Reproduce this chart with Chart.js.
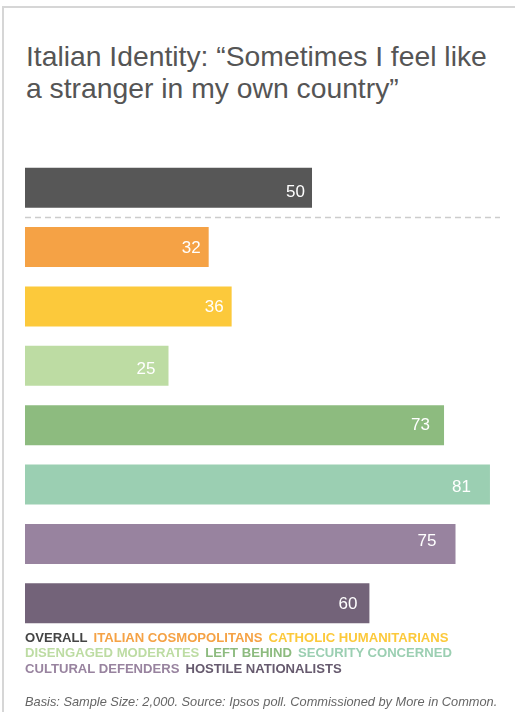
<!DOCTYPE html>
<html>
<head>
<meta charset="utf-8">
<script src="https://cdn.jsdelivr.net/npm/chart.js@4.4.0/dist/chart.umd.min.js"></script>
<style>
  body { margin: 0; background: #fff; font-family: "Liberation Sans", Arial, sans-serif; }
  #page { position: relative; width: 515px; height: 712px; overflow: hidden; }
  #frame { position: absolute; left: 2px; top: 6px; width: 600px; height: 800px;
           border-top: 2px solid #d6d6d6; border-left: 2px solid #d6d6d6; }
  #title { position: absolute; left: 26px; top: 40px; font-size: 28.3px; line-height: 32px; color: #555; white-space: nowrap; }
  #wrap { position: absolute; left: 0; top: 0; width: 515px; height: 712px; }
  #legend { position: absolute; left: 25px; top: 629.5px; font-size: 13.1px; line-height: 15.5px;
            font-weight: bold; white-space: nowrap; }
  #legend span { margin-right: 6px; }
  #footer { position: absolute; left: 25px; top: 694.5px; font-size: 12.8px; line-height: 14px;
            font-style: italic; color: #666; white-space: nowrap; }
</style>
</head>
<body>
<div id="page">
  <div id="frame"></div>
  <div id="title">Italian Identity: “Sometimes I feel like<br>a stranger in my own country”</div>
  <div id="wrap"><canvas id="graph"></canvas></div>
  <div id="legend"></div>
  <div id="footer">Basis: Sample Size: 2,000. Source: Ipsos poll. Commissioned by More in Common.</div>
</div>
<script>
const categories = ['OVERALL', 'ITALIAN COSMOPOLITANS', 'CATHOLIC HUMANITARIANS', 'DISENGAGED MODERATES',
                    'LEFT BEHIND', 'SECURITY CONCERNED', 'CULTURAL DEFENDERS', 'HOSTILE NATIONALISTS'];
const values = [50, 32, 36, 25, 73, 81, 75, 60];
const colors = ['#575757', '#f5a245', '#fcc93b', '#bddca3', '#8dbb7f', '#9bcfb2', '#98839f', '#736379'];
const legendColors = ['#444444', '#f5a245', '#fcc93b', '#bddca3', '#8dbb7f', '#9bcfb2', '#98839f', '#665a6e'];
// where the legend wraps onto a new line
const legendLines = [[0, 1, 2], [3, 4, 5], [6, 7]];

// label placement inside each bar (the original was hand placed, not uniform)
const labelPadRight = [7, 8, 8, 13, 14, 19, 19, 12];
const labelBaselineShift = [9.5, 6, 5.5, 8, 4.5, 7, 2, 6];

// legend as plain text
const legend = document.getElementById('legend');
legendLines.forEach(line => {
    const div = document.createElement('div');
    line.forEach(i => {
        const s = document.createElement('span');
        s.textContent = categories[i];
        s.style.color = legendColors[i];
        div.appendChild(s);
    });
    legend.appendChild(div);
});

// dashed line under overall + value labels inside bars
const extras = {
    id: 'extras',
    afterDatasetsDraw(chart) {
        const ctx = chart.ctx;
        const area = chart.chartArea;
        const y = chart.scales.y;
        const ySep = (y.getPixelForValue(0) + y.getPixelForValue(1)) / 2;
        ctx.save();
        ctx.strokeStyle = '#cccccc';
        ctx.lineWidth = 1.5;
        ctx.setLineDash([6, 4]);
        ctx.beginPath();
        ctx.moveTo(area.left, ySep);
        ctx.lineTo(area.right, ySep);
        ctx.stroke();
        ctx.setLineDash([]);

        ctx.fillStyle = '#ffffff';
        ctx.font = '17px "Liberation Sans", Arial, sans-serif';
        ctx.textAlign = 'right';
        ctx.textBaseline = 'alphabetic';
        chart.getDatasetMeta(0).data.forEach((bar, i) => {
            ctx.fillText(values[i], bar.x - labelPadRight[i], bar.y + labelBaselineShift[i]);
        });
        ctx.restore();
    }
};

const graph = document.getElementById('graph').getContext('2d');
new Chart(graph, {
    type: 'bar',
    data: {
        labels: categories,
        datasets: [{
            data: values,
            backgroundColor: colors,
            borderWidth: 0,
            categoryPercentage: 1,
            barPercentage: 0.675
        }]
    },
    options: {
        indexAxis: 'y',
        responsive: true,
        maintainAspectRatio: false,
        animation: false,
        layout: { padding: { left: 25, right: 15, top: 158, bottom: 79 } },
        plugins: {
            legend: { display: false },
            tooltip: { enabled: false }
        },
        scales: {
            x: { display: false, min: 0, max: 82.75 },
            y: { display: false }
        }
    },
    plugins: [extras]
});
</script>
</body>
</html>
